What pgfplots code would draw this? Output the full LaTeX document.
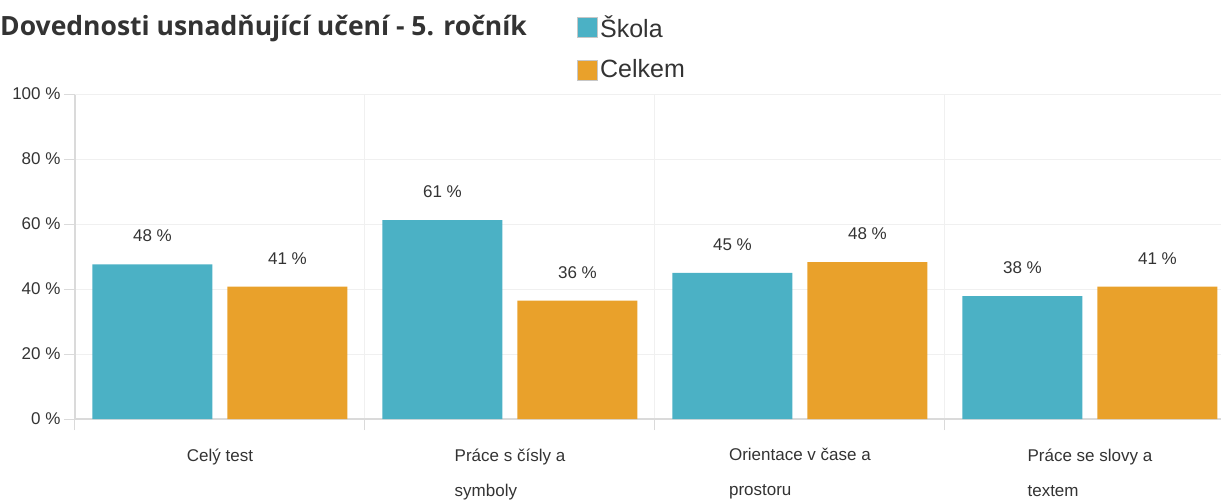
\documentclass[border=0pt]{standalone}
\usepackage{pgfplots}
\pgfplotsset{compat=1.18}
\usepackage{fontspec}
\setmainfont{Liberation Sans}
\newfontfamily\titlefont{Open Sans}
\definecolor{skola}{RGB}{75,177,197}
\definecolor{celkem}{RGB}{233,161,43}
\definecolor{txt}{RGB}{51,51,51}
\definecolor{axisgray}{RGB}{218,218,218}
\definecolor{gridgray}{RGB}{240,240,240}
\pgfplotsset{
  leg skola/.style={legend image code/.code={%
    \fill[fill=skola, draw=none] (0pt,-11pt) rectangle (20pt,9pt);
    \draw[draw=black!22, fill=none, line width=1pt] (0pt,-11pt) rectangle (20pt,9pt);}},
  leg celkem/.style={legend image code/.code={%
    \fill[fill=celkem, draw=none] (0pt,-11pt) rectangle (20pt,9pt);
    \draw[draw=black!22, fill=none, line width=1pt] (0pt,-11pt) rectangle (20pt,9pt);}}
}
\begin{document}
\begin{tikzpicture}[x=1pt,y=1pt]
\useasboundingbox (-75,-80) rectangle (1146,419);
\node[anchor=west, inner sep=0pt, text=txt, font=\titlefont\bfseries\fontsize{26.5}{30}\selectfont] at (-75,390) {Dovednosti usnadňující učení - 5. ročník};
\begin{axis}[
  at={(0pt,0pt)}, anchor=south west,
  scale only axis, width=1146pt, height=325pt,
  xmin=-0.5, xmax=3.452, ymin=0, ymax=100,
  ybar=15pt, bar width=120pt,
  axis x line*=bottom, axis y line*=left,
  axis line style={-, draw=axisgray, line width=1.5pt},
  /pgf/number format/assume math mode=true,
  ytick={0,20,...,100},
  yticklabel={\pgfmathprintnumber{\tick} \%},
  y tick label style={font=\fontsize{17}{20}\selectfont, text=txt},
  ymajorgrids, y grid style={gridgray, line width=1pt},
  extra y ticks={100}, extra y tick labels={},
  extra y tick style={grid style={axisgray, line width=1.5pt}, major tick length=0pt},
  tick align=outside, major tick length=11pt,
  tick style={draw=axisgray, line width=1pt},
  xtick={-0.5,0.5,1.5,2.5}, xticklabels={},
  xmajorgrids, x grid style={gridgray, line width=1pt},
  extra x ticks={0,1,2,3},
  extra x tick labels={Celý test, Práce s čísly a\\symboly, Orientace v čase a\\prostoru, Práce se slovy a\\textem},
  extra x tick style={grid=none, major tick length=0pt, tick style={draw=none},
    tick label style={align=left, font=\fontsize{17}{35}\selectfont, text=txt, anchor=north, yshift=-26pt}},
  nodes near coords={\pgfmathprintnumber[fixed,precision=0]{\pgfplotspointmeta} \%},
  every node near coord/.append style={font=\fontsize{17}{20}\selectfont, text=txt, yshift=19pt},
  legend style={at={(0.438,1.249)}, anchor=north west, draw=none, fill=none,
    font=\fontsize{25}{28}\selectfont, text=txt, row sep=17pt, inner sep=0pt,
    /tikz/every even column/.append style={column sep=6pt}},
  legend cell align=left,
]
\addplot[fill=skola, draw=none, leg skola] coordinates {(0,47.6) (1,61.2) (2,45.0) (3,37.8)};
\addplot[fill=celkem, draw=none, leg celkem] coordinates {(0,40.7) (1,36.4) (2,48.3) (3,40.7)};
\legend{Škola, Celkem}
\end{axis}
\end{tikzpicture}
\end{document}
